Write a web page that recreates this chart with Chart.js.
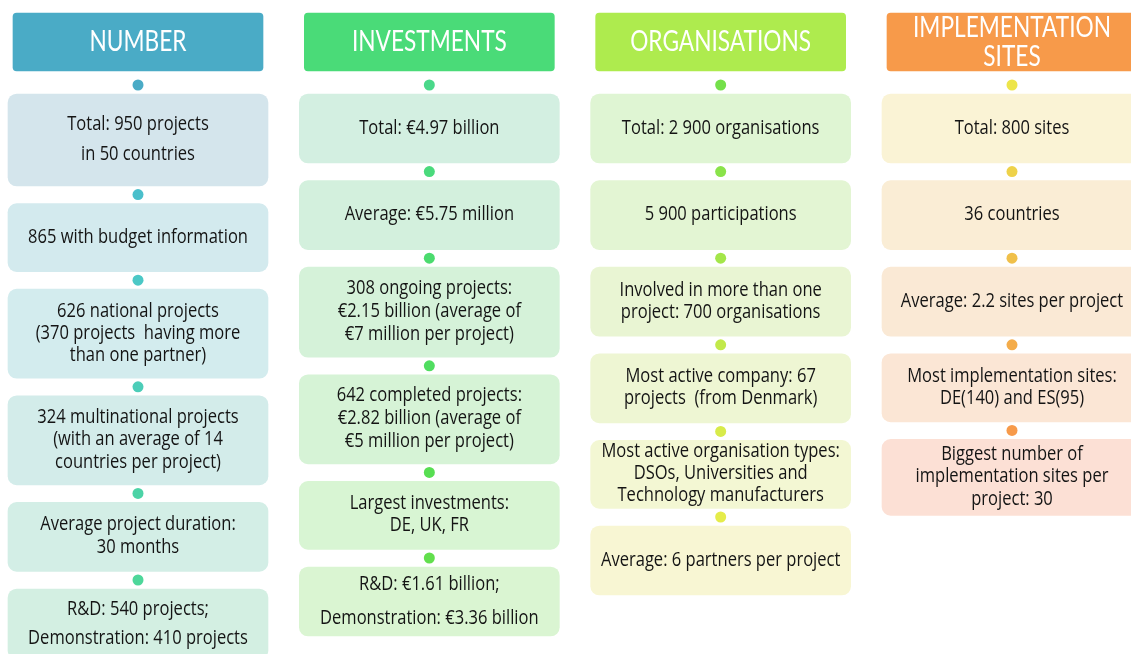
<!DOCTYPE html>
<html>
<head>
<meta charset="utf-8">
<script src="https://cdn.jsdelivr.net/npm/chart.js@4.4.1/dist/chart.umd.min.js"></script>
<style>
html,body{margin:0;padding:0;background:#fff;}
canvas{display:block;}
</style>
</head>
<body>
<canvas id="c" width="1131" height="654"></canvas>
<script>
// ---- DATA ----
const categories = ["NUMBER", "INVESTMENTS", "ORGANISATIONS", "IMPLEMENTATION SITES"];
const numberFacts = [
  "Total: 950 projects\nin 50 countries",
  "865 with budget information",
  "626 national projects\n(370 projects  having more\nthan one partner)",
  "324 multinational projects\n(with an average of 14\ncountries per project)",
  "Average project duration:\n30 months",
  "R&D: 540 projects;\nDemonstration: 410 projects"
];
const investmentFacts = [
  "Total: €4.97 billion",
  "Average: €5.75 million",
  "308 ongoing projects:\n€2.15 billion (average of\n€7 million per project)",
  "642 completed projects:\n€2.82 billion (average of\n€5 million per project)",
  "Largest investments:\nDE, UK, FR",
  "R&D: €1.61 billion;\nDemonstration: €3.36 billion"
];
const organisationFacts = [
  "Total: 2 900 organisations",
  "5 900 participations",
  "Involved in more than one\nproject: 700 organisations",
  "Most active company: 67\nprojects  (from Denmark)",
  "Most active organisation types:\nDSOs, Universities and\nTechnology manufacturers",
  "Average: 6 partners per project"
];
const siteFacts = [
  "Total: 800 sites",
  "36 countries",
  "Average: 2.2 sites per project",
  "Most implementation sites:\nDE(140) and ES(95)",
  "Biggest number of\nimplementation sites per\nproject: 30"
];
const headerLines = [["NUMBER"], ["INVESTMENTS"], ["ORGANISATIONS"], ["IMPLEMENTATION", "SITES"]];

// ---- LAYOUT / STYLE (not data) ----
const facts = [numberFacts, investmentFacts, organisationFacts, siteFacts];
const boxHeights = [[92,68,89,89,69,70],[69,69,90,89,68,69],[69,69,69,69,68,69],[69,69,69,68,76]];
const lineSpacing = [[30,22,22,22.5,23,29],[22,22,23,23,22,34],[22,22,22,22,22,22],[22,22,22,22,22.5]];
const headerColors = ["#4AABC6", "#4ADB78", "#AEEB4E", "#F79A4A"];
const boxColors = [
  ["#D4E5EC","#D3EAEE","#D3ECEE","#D3ECEA","#D3EEE6","#D3EFE2"],
  ["#D3EFE1","#D3F0DD","#D5F2D9","#D6F3D6","#D8F5D3","#DAF5D2"],
  ["#DFF5D3","#E3F5D3","#E9F5D3","#EEF6D3","#F3F7D3","#F8F6D3"],
  ["#FAF3D5","#FAEDD5","#FAE9D5","#FBE6D5","#FCE0D5"]
];
const dotColors = [
  ["#4AABC6","#4ABFCB","#4BC8C6","#4CCDB8","#4CD3A6","#4DD79A"],
  ["#4AD88A","#4ADA7C","#4BDB6E","#50DD60","#57DE52","#62DF4D"],
  ["#74E04A","#8AE34A","#A4E64A","#C2E94A","#D8EB4A","#E5EC4A"],
  ["#EDE54A","#EED24A","#F0C04A","#F4AC4A","#F79A4A"]
];
const topStart = 94, gap = 17.6, headerTop = 13, headerBottom = 71, dotOffset = 9;

const headerData = categories.map((c, i) => ({x: i, y: [headerTop, headerBottom]}));
const boxData = [], boxText = [], boxLS = [], boxBg = [], dotData = [], dotBg = [];
facts.forEach((list, ci) => {
  let top = topStart;
  list.forEach((t, bi) => {
    const h = boxHeights[ci][bi];
    boxData.push({x: ci, y: [top, top + h]});
    boxText.push(t);
    boxLS.push(lineSpacing[ci][bi]);
    boxBg.push(boxColors[ci][bi]);
    dotData.push({x: ci, y: top - dotOffset});
    dotBg.push(dotColors[ci][bi]);
    top += h + gap;
  });
});

const BODY_FONT = "'Open Sans'";
const HEAD_FONT = "Lato";
function condense(ctx, font, sample, px, target) {
  ctx.font = px + "px " + font;
  return target / ctx.measureText(sample).width;
}

const textPlugin = {
  id: "texts",
  afterDatasetsDraw(chart) {
    const ctx = chart.ctx;
    ctx.save();
    ctx.textAlign = "center";
    ctx.textBaseline = "middle";
    const bodyPx = 19.5;
    const sx = condense(ctx, BODY_FONT, "865 with budget information", bodyPx, 220);
    ctx.fillStyle = "#141414";
    const meta = chart.getDatasetMeta(1);
    meta.data.forEach((el, i) => {
      const cy = (el.y + el.base) / 2;
      const lines = boxText[i].split("\n");
      const ls = boxLS[i];
      lines.forEach((ln, k) => {
        const y = cy + (k - (lines.length - 1) / 2) * ls;
        ctx.save();
        ctx.translate(el.x, y - 0.5);
        ctx.scale(sx, 1);
        ctx.font = bodyPx + "px " + BODY_FONT;
        ctx.fillText(ln, 0, 0);
        ctx.restore();
      });
    });
    const hPx = 29;
    const hsx = condense(ctx, HEAD_FONT, "NUMBER", hPx, 97);
    ctx.fillStyle = "#ffffff";
    const hmeta = chart.getDatasetMeta(0);
    hmeta.data.forEach((el, i) => {
      const cy = (el.y + el.base) / 2;
      const lines = headerLines[i];
      const ls = 29;
      lines.forEach((ln, k) => {
        const y = cy + (k - (lines.length - 1) / 2) * ls;
        ctx.save();
        ctx.translate(el.x, y);
        ctx.scale(hsx, 1);
        ctx.font = hPx + "px " + HEAD_FONT;
        ctx.fillText(ln, 0, 0);
        ctx.restore();
      });
    });
    ctx.restore();
  }
};

new Chart(document.getElementById("c"), {
  type: "bar",
  data: {
    datasets: [
      {
        label: "headers",
        data: headerData,
        backgroundColor: headerColors,
        barThickness: 250,
        borderRadius: 4,
        borderSkipped: false,
        grouped: false
      },
      {
        label: "facts",
        data: boxData,
        backgroundColor: boxBg,
        barThickness: 260,
        borderRadius: 9,
        borderSkipped: false,
        grouped: false
      },
      {
        type: "scatter",
        label: "dots",
        data: dotData,
        backgroundColor: dotBg,
        borderWidth: 0,
        pointRadius: 5.5,
        pointHoverRadius: 5.5
      }
    ]
  },
  options: {
    responsive: false,
    animation: false,
    layout: {padding: 0, autoPadding: false},
    plugins: {legend: {display: false}, tooltip: {enabled: false}},
    events: [],
    scales: {
      x: {type: "linear", offset: false, min: -0.47368, max: 3.40847, display: false, grace: 0},
      y: {type: "linear", offset: false, min: 0, max: 654, reverse: true, display: false, grace: 0}
    }
  },
  plugins: [textPlugin]
});
</script>
</body>
</html>
